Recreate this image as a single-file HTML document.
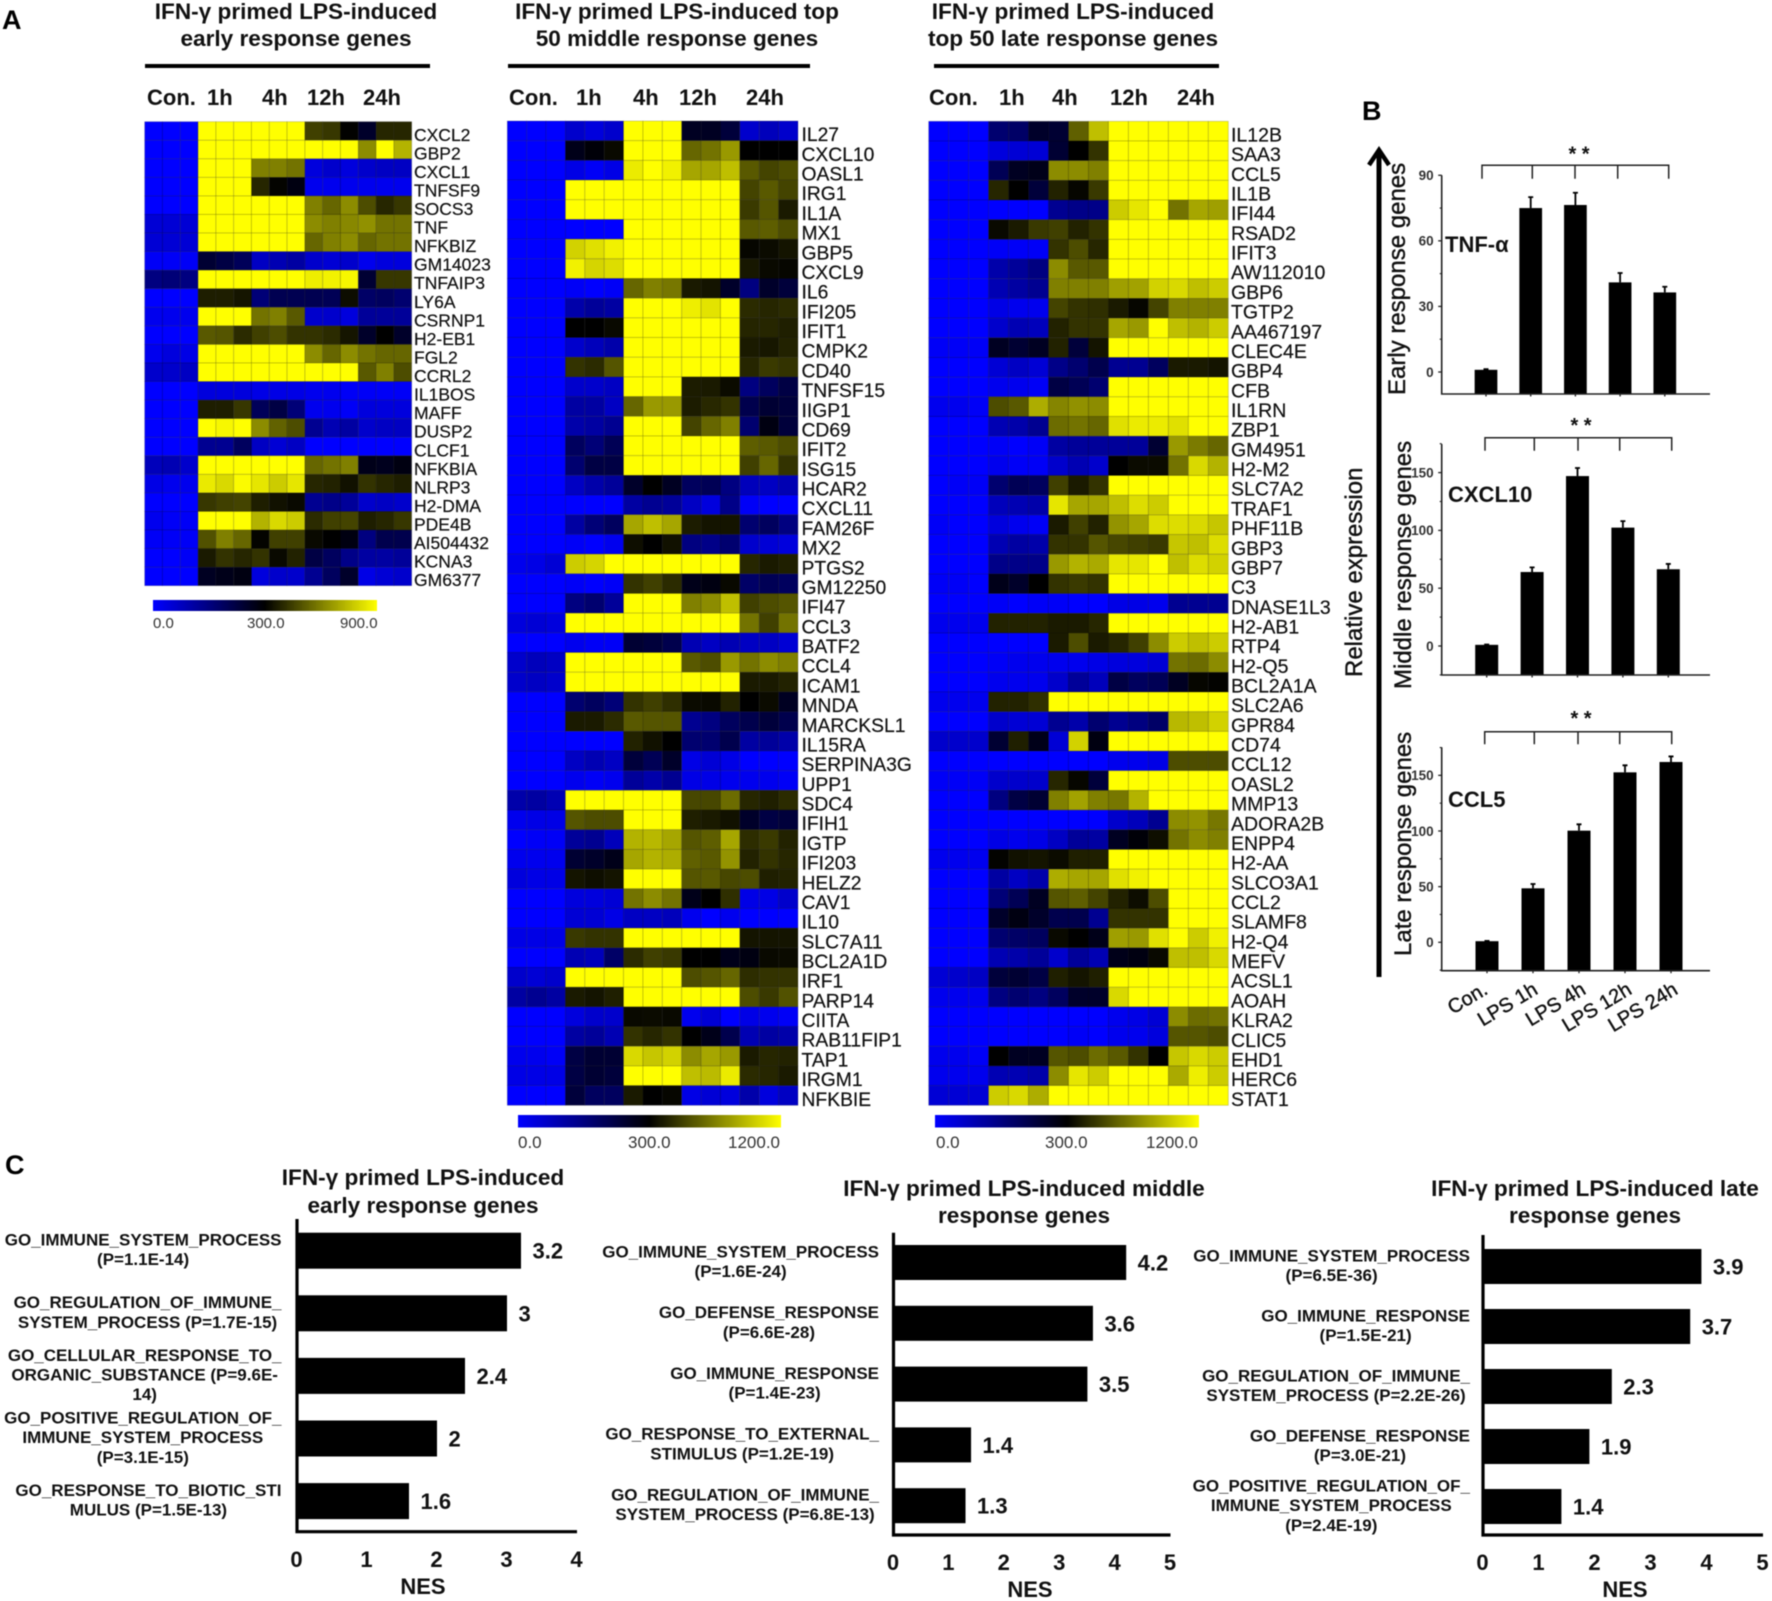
<!DOCTYPE html>
<html lang="en">
<head>
<meta charset="utf-8">
<title>IFN-γ primed LPS-induced response genes</title>
<style>
html,body{margin:0;padding:0;background:#fff;}
svg{display:block;font-family:"Liberation Sans",sans-serif;filter:blur(0.4px);}
text{fill:#111;}
.t{font-weight:bold;font-size:22.6px;text-anchor:middle;}
.h{font-weight:bold;font-size:22px;}
.letter{font-weight:bold;font-size:27px;fill:#000;}
.cb{font-size:15px;fill:#333;}
.cb2{font-size:17px;fill:#333;}
.yt{font-size:24px;stroke:#111;stroke-width:0.4px;}
.gn{font-weight:bold;font-size:22px;}
</style>
</head>
<body>
<svg id="fig" xmlns="http://www.w3.org/2000/svg" width="1772" height="1601" viewBox="0 0 1772 1601">
<defs>
<linearGradient id="cbar" x1="0" x2="1" y1="0" y2="0">
<stop offset="0" stop-color="#0000ff"/><stop offset="0.5" stop-color="#000"/><stop offset="1" stop-color="#ffff00"/>
</linearGradient>
</defs>
<rect x="0" y="0" width="1772" height="1601" fill="#fff"/>

<text class="letter" x="2" y="29">A</text>
<text class="letter" x="1362" y="120">B</text>
<text class="letter" x="5" y="1174">C</text>

<g>
<text class="t" x="296" y="19">IFN-γ primed LPS-induced</text>
<text class="t" x="296" y="46">early response genes</text>
<rect x="145" y="64" width="285" height="4" fill="#000"/>
<text class="h" x="147" y="105">Con.</text>
<text class="h" x="207" y="105">1h</text>
<text class="h" x="262" y="105">4h</text>
<text class="h" x="307" y="105">12h</text>
<text class="h" x="363" y="105">24h</text>
</g>
<g>
<text class="t" x="677" y="19">IFN-γ primed LPS-induced top</text>
<text class="t" x="677" y="46">50 middle response genes</text>
<rect x="508" y="64" width="302" height="4" fill="#000"/>
<text class="h" x="509" y="105">Con.</text>
<text class="h" x="576" y="105">1h</text>
<text class="h" x="633" y="105">4h</text>
<text class="h" x="679" y="105">12h</text>
<text class="h" x="746" y="105">24h</text>
</g>
<g>
<text class="t" x="1073" y="19">IFN-γ primed LPS-induced</text>
<text class="t" x="1073" y="46">top 50 late response genes</text>
<rect x="934" y="64" width="285" height="4" fill="#000"/>
<text class="h" x="929" y="105">Con.</text>
<text class="h" x="999" y="105">1h</text>
<text class="h" x="1052" y="105">4h</text>
<text class="h" x="1110" y="105">12h</text>
<text class="h" x="1177" y="105">24h</text>
</g>

<g>
<rect x="153" y="600" width="224" height="11" fill="url(#cbar)"/>
<text class="cb" x="153" y="628">0.0</text>
<text class="cb" x="247" y="628">300.0</text>
<text class="cb" x="340" y="628">900.0</text>
</g>
<g>
<rect x="518" y="1115" width="263" height="12.5" fill="url(#cbar)"/>
<text class="cb2" x="518" y="1148">0.0</text>
<text class="cb2" x="628" y="1148">300.0</text>
<text class="cb2" x="728" y="1148">1200.0</text>
</g>
<g>
<rect x="935" y="1115" width="264" height="12.5" fill="url(#cbar)"/>
<text class="cb2" x="936" y="1148">0.0</text>
<text class="cb2" x="1045" y="1148">300.0</text>
<text class="cb2" x="1146" y="1148">1200.0</text>
</g>

<g>
<line x1="1379" y1="977" x2="1379" y2="150" stroke="#000" stroke-width="5"/>
<polyline points="1369,165 1379,150 1389,165" fill="none" stroke="#000" stroke-width="4.5"/>
</g>
<text x="1362" y="677" font-size="24" stroke="#111" stroke-width="0.4" transform="rotate(-90 1362 677)">Relative expression</text>
<text class="yt" x="1405" y="395" transform="rotate(-90 1405 395)">Early response genes</text>
<text class="yt" x="1411" y="689" transform="rotate(-90 1411 689)">Middle response genes</text>
<text class="yt" x="1411" y="956" transform="rotate(-90 1411 956)">Late response genes</text>
<text class="gn" x="1445" y="252">TNF-α</text>
<text class="gn" x="1448" y="502">CXCL10</text>
<text class="gn" x="1448" y="807">CCL5</text>

<text class="t" x="423" y="1185">IFN-γ primed LPS-induced</text>
<text class="t" x="423" y="1213">early response genes</text>
<text class="t" x="1024" y="1196">IFN-γ primed LPS-induced middle</text>
<text class="t" x="1024" y="1223">response genes</text>
<text class="t" x="1595" y="1196">IFN-γ primed LPS-induced late</text>
<text class="t" x="1595" y="1223">response genes</text>
</svg>

<script>
const earlyGenes=["CXCL2","GBP2","CXCL1","TNFSF9","SOCS3","TNF","NFKBIZ","GM14023","TNFAIP3","LY6A","CSRNP1","H2-EB1","FGL2","CCRL2","IL1BOS","MAFF","DUSP2","CLCF1","NFKBIA","NLRP3","H2-DMA","PDE4B","AI504432","KCNA3","GM6377"];
const middleGenes=["IL27","CXCL10","OASL1","IRG1","IL1A","MX1","GBP5","CXCL9","IL6","IFI205","IFIT1","CMPK2","CD40","TNFSF15","IIGP1","CD69","IFIT2","ISG15","HCAR2","CXCL11","FAM26F","MX2","PTGS2","GM12250","IFI47","CCL3","BATF2","CCL4","ICAM1","MNDA","MARCKSL1","IL15RA","SERPINA3G","UPP1","SDC4","IFIH1","IGTP","IFI203","HELZ2","CAV1","IL10","SLC7A11","BCL2A1D","IRF1","PARP14","CIITA","RAB11FIP1","TAP1","IRGM1","NFKBIE"];
const lateGenes=["IL12B","SAA3","CCL5","IL1B","IFI44","RSAD2","IFIT3","AW112010","GBP6","TGTP2","AA467197","CLEC4E","GBP4","CFB","IL1RN","ZBP1","GM4951","H2-M2","SLC7A2","TRAF1","PHF11B","GBP3","GBP7","C3","DNASE1L3","H2-AB1","RTP4","H2-Q5","BCL2A1A","SLC2A6","GPR84","CD74","CCL12","OASL2","MMP13","ADORA2B","ENPP4","H2-AA","SLCO3A1","CCL2","SLAMF8","H2-Q4","MEFV","ACSL1","AOAH","KLRA2","CLIC5","EHD1","HERC6","STAT1"];

const earlyExpr=[
[0,0,0,900,900,900,900,900,900,450,430,305,250,390,390],
[0,0,0,900,900,900,900,900,900,900,900,900,630,900,720],
[0,0,0,900,900,900,600,600,570,40,60,40,60,70,70],
[0,0,0,900,900,900,390,310,280,20,20,20,20,20,20],
[0,0,0,900,900,900,900,900,900,600,540,630,480,390,430],
[50,50,50,900,900,900,900,900,900,630,600,620,640,570,570],
[50,50,50,900,900,900,900,900,900,540,600,630,540,570,570],
[10,10,10,240,220,195,70,90,110,60,50,60,20,40,40],
[150,160,150,900,900,900,900,900,900,860,870,880,240,430,430],
[0,0,0,370,370,350,160,205,205,205,200,330,180,190,170],
[20,20,20,900,900,900,570,600,510,60,60,40,120,120,120],
[0,0,0,510,500,400,450,480,420,420,400,350,250,300,250],
[20,40,30,900,900,900,900,900,900,630,540,630,570,540,540],
[60,60,70,900,900,900,900,900,900,900,900,900,510,600,480],
[0,0,0,40,40,40,30,30,30,20,20,10,10,10,10],
[0,0,0,370,370,430,195,220,160,20,20,10,40,40,40],
[0,0,0,900,880,900,630,530,480,130,90,110,60,70,70],
[0,0,0,130,130,190,70,50,70,0,0,0,0,0,0],
[80,90,60,900,900,900,900,900,900,540,570,600,270,265,280],
[30,20,20,850,810,890,840,780,840,390,380,340,420,390,370],
[0,0,0,430,450,460,370,340,320,130,140,120,60,70,60],
[20,10,10,900,900,900,720,810,780,400,450,460,370,390,430],
[10,10,10,490,600,540,310,450,450,320,300,280,150,210,210],
[0,0,10,360,420,390,420,320,380,220,190,140,110,110,120],
[0,0,0,260,270,280,40,60,60,130,190,250,30,50,60]
];

const middleExpr=[
[0,0,0,60,40,60,1200,1200,1200,260,260,230,60,80,60],
[0,0,0,270,290,330,1200,1200,1200,660,705,840,300,300,300],
[0,0,0,30,10,30,1130,1200,1150,885,885,975,615,540,570],
[0,0,0,1200,1200,1200,1200,1200,1200,1200,1200,1200,540,615,540],
[0,0,0,1200,1200,1200,1200,1200,1200,1200,1200,1200,505,600,390],
[0,0,0,0,0,0,1200,1200,1200,1200,1200,1200,615,630,570],
[0,0,0,1040,1090,1150,1200,1200,1200,1200,1200,1200,320,340,370],
[0,0,0,1150,1050,1080,1200,1200,1200,1200,1200,1200,380,330,320],
[0,0,0,10,0,10,660,750,720,390,370,250,150,250,230],
[0,0,0,100,120,110,1200,1200,1200,1140,1100,1200,450,435,450],
[0,0,0,300,300,330,1200,1200,1200,1200,1200,1200,430,435,410],
[0,0,0,60,80,100,1200,1200,1200,1200,1200,1200,390,380,420],
[0,0,0,480,450,600,1200,1200,1200,1200,1200,1200,435,505,480],
[0,0,0,60,60,70,1200,1200,1200,400,390,340,150,190,220],
[0,0,0,110,110,70,660,840,840,400,440,480,210,240,230],
[0,0,0,100,110,130,1200,1200,1200,540,660,750,170,280,230],
[0,0,0,190,160,200,1200,1200,1200,1200,1200,1200,630,615,570],
[0,0,0,170,220,220,1200,1200,1200,1200,1200,1200,525,660,480],
[0,0,0,70,100,120,250,300,260,190,200,150,80,70,90],
[0,0,0,0,0,0,110,130,120,70,40,140,10,0,0],
[0,0,0,110,160,190,885,975,885,400,370,370,170,190,150],
[0,0,0,10,0,20,350,300,360,150,140,170,60,50,40],
[20,30,50,1020,1050,1200,1200,1200,1200,1200,1200,1200,435,390,410],
[0,0,0,10,0,10,480,525,450,270,280,330,180,200,190],
[0,0,0,150,170,120,1200,1200,1200,750,795,975,525,570,600],
[40,50,40,1200,1200,1200,1200,1200,1200,1200,1200,1200,705,525,705],
[0,0,0,20,10,10,240,230,210,90,70,90,70,70,50],
[60,80,70,1200,1200,1200,1200,1200,1200,615,570,840,705,795,750],
[60,70,60,1200,1200,1200,1200,1200,1200,1200,1200,1200,390,390,420],
[0,0,0,170,190,160,480,525,465,340,330,420,300,340,260],
[0,0,0,390,390,450,615,600,600,130,150,190,210,230,210],
[0,0,0,0,0,0,420,360,300,170,170,210,110,120,100],
[0,0,0,70,90,70,230,200,250,30,50,30,0,0,0],
[0,0,0,20,10,20,120,100,130,30,30,20,20,20,10],
[100,110,90,1200,1200,1200,1200,1200,1200,550,550,680,435,410,450],
[20,30,30,600,570,570,1200,1200,1200,410,390,360,250,220,230],
[0,10,10,120,130,80,930,950,885,600,630,885,460,505,420],
[20,20,20,240,250,270,885,930,910,640,615,820,420,480,435],
[40,30,30,370,350,370,1200,1200,1200,600,615,550,570,410,420],
[0,0,0,40,40,50,705,795,705,270,300,465,30,30,60],
[0,0,0,50,50,30,70,70,80,20,0,20,0,0,0],
[30,30,30,500,480,480,1200,1200,1200,1200,1200,1200,370,370,370],
[0,0,0,90,80,180,450,525,500,300,300,270,280,330,340],
[60,50,60,1200,1200,1200,1200,1200,1200,570,600,660,460,480,480],
[110,130,110,390,370,410,1200,1200,1200,1200,1200,1200,570,500,590],
[0,0,0,40,60,60,330,340,330,20,50,0,30,20,10],
[0,0,0,110,120,90,480,435,480,300,270,210,90,110,100],
[20,20,10,220,240,240,1065,1000,1040,795,885,840,390,435,420],
[30,30,30,220,240,230,1200,1200,1200,975,960,1130,450,435,390],
[0,0,0,230,190,190,390,300,320,30,50,40,100,40,70]
];

const lateExpr=[
[0,0,0,170,180,250,240,640,975,1200,1200,1200,1200,1200,1200],
[0,0,0,40,50,50,240,300,480,1200,1200,1200,1200,1200,1200],
[0,0,0,200,260,270,795,795,750,1200,1200,1200,1200,1200,1200],
[0,0,0,435,300,230,420,320,500,1200,1200,1200,1200,1200,1200],
[0,0,0,0,0,0,130,140,140,1020,1110,1200,705,885,860],
[0,0,0,330,390,500,525,420,480,1200,1200,1200,1200,1200,1200],
[0,0,0,10,10,10,480,570,435,1200,1200,1200,1200,1200,1200],
[0,0,0,100,120,150,795,615,615,1200,1200,1200,1200,1200,1200],
[0,0,0,90,110,130,750,750,750,860,870,1040,1065,975,1020],
[0,0,0,30,20,20,540,480,465,390,320,540,750,750,750],
[0,0,0,60,90,80,420,480,480,885,840,1200,975,930,1020],
[10,10,10,260,240,260,420,230,370,1200,1200,1200,1200,1200,1200],
[0,0,0,50,70,50,140,170,210,130,130,190,390,390,370],
[0,0,0,20,20,10,220,200,170,1200,1200,1200,1200,1200,1200],
[20,20,10,570,615,910,770,810,795,1200,1200,1200,1200,1200,1200],
[0,0,0,90,100,130,680,705,660,1090,1130,1130,1090,1200,1200],
[0,0,0,10,0,10,110,120,120,120,120,240,840,735,660],
[0,0,0,20,10,10,60,90,60,300,340,340,705,1065,930],
[0,10,10,170,200,190,525,390,480,1200,1200,1200,1200,1200,1200],
[0,0,0,80,90,100,1110,885,885,975,1080,1020,1200,1200,1200],
[10,0,0,40,20,10,390,525,420,820,885,1080,1080,1065,1000],
[0,0,0,90,110,100,480,480,600,550,525,500,1000,975,1080],
[0,0,0,140,140,140,840,930,900,1110,1110,1200,975,1080,1040],
[10,10,0,270,250,300,480,505,480,1200,1200,1200,1200,1200,1200],
[0,0,0,10,0,10,10,0,0,30,30,20,130,130,130],
[20,20,20,420,420,420,390,390,435,1200,1200,1200,1200,1200,1200],
[0,0,0,0,0,0,390,570,390,435,525,795,1020,975,1020],
[0,0,0,10,20,20,20,20,30,40,40,50,705,680,795],
[0,0,0,20,20,20,60,120,80,220,190,200,260,320,310],
[20,20,20,420,420,465,1200,1200,1200,1200,1200,1200,1200,1200,1200],
[0,0,0,60,50,50,130,100,170,130,150,180,950,975,1040],
[60,60,60,240,410,270,50,1040,280,1200,1200,1200,1200,1200,1200],
[0,0,0,0,0,0,0,0,0,20,20,30,570,570,570],
[10,10,10,60,60,60,435,320,230,1200,1200,1200,1200,1200,1200],
[0,0,0,150,220,240,750,870,750,720,930,1200,1200,1200,1200],
[0,0,0,0,0,0,0,0,0,60,80,130,795,820,720],
[0,0,0,30,20,30,70,120,110,260,290,350,705,795,750],
[20,20,20,310,360,370,340,410,410,1200,1200,1200,1200,1200,1200],
[0,0,0,110,70,100,910,885,885,1090,1150,1200,1200,1200,1200],
[0,0,0,160,200,260,600,630,540,420,345,570,1200,1200,1200],
[0,0,0,250,280,250,210,210,130,480,480,480,1200,1200,1200],
[0,0,0,170,180,190,330,300,270,860,840,1090,1200,1020,1150],
[0,0,0,90,100,120,60,120,90,270,280,330,975,975,1065],
[50,60,70,230,240,220,410,370,410,1200,1200,1200,1200,1200,1200],
[20,20,20,150,170,150,190,250,250,1065,1200,1200,1200,1200,1200],
[0,0,0,0,0,0,0,0,0,20,30,50,795,680,705],
[0,0,0,0,0,0,0,10,0,20,20,40,600,600,570],
[20,20,10,300,260,260,600,570,680,615,480,300,1000,1065,1020],
[20,20,20,90,90,100,795,1110,1020,1200,1200,1200,900,1140,1020],
[50,50,50,1020,1065,910,1200,1200,1200,1200,1200,1200,1200,1200,1200]
];

const barCategories=["Con.","LPS 1h","LPS 4h","LPS 12h","LPS 24h"];
const tnfValues=[1,75,76.4,41,36.4];
const tnfErrorTops=[1.3,80,82,45.3,39];
const tnfTicks=[0,30,60,90];
const tnfMinorTicks=[15,45,75];
const cxcl10Values=[1,64,147,102.4,66.4];
const cxcl10ErrorTops=[1.3,68,154,108,71];
const cxcl10Ticks=[0,50,100,150];
const cxcl10MinorTicks=[-25,25,75,125,175];
const ccl5Values=[1,48.5,100.3,152.7,162];
const ccl5ErrorTops=[1.3,52.4,106,159,167];
const ccl5Ticks=[0,50,100,150];
const ccl5MinorTicks=[-25,25,75,125,175];

const goEarlyLabels=[["GO_IMMUNE_SYSTEM_PROCESS","(P=1.1E-14)"],["GO_REGULATION_OF_IMMUNE_","SYSTEM_PROCESS (P=1.7E-15)"],["GO_CELLULAR_RESPONSE_TO_","ORGANIC_SUBSTANCE (P=9.6E-","14)"],["GO_POSITIVE_REGULATION_OF_","IMMUNE_SYSTEM_PROCESS","(P=3.1E-15)"],["GO_RESPONSE_TO_BIOTIC_STI","MULUS (P=1.5E-13)"]];
const goEarlyNes=[3.2,3,2.4,2,1.6];
const goEarlyTicks=[0,1,2,3,4];
const goMiddleLabels=[["GO_IMMUNE_SYSTEM_PROCESS","(P=1.6E-24)"],["GO_DEFENSE_RESPONSE","(P=6.6E-28)"],["GO_IMMUNE_RESPONSE","(P=1.4E-23)"],["GO_RESPONSE_TO_EXTERNAL_","STIMULUS (P=1.2E-19)"],["GO_REGULATION_OF_IMMUNE_","SYSTEM_PROCESS (P=6.8E-13)"]];
const goMiddleNes=[4.2,3.6,3.5,1.4,1.3];
const goMiddleTicks=[0,1,2,3,4,5];
const goLateLabels=[["GO_IMMUNE_SYSTEM_PROCESS","(P=6.5E-36)"],["GO_IMMUNE_RESPONSE","(P=1.5E-21)"],["GO_REGULATION_OF_IMMUNE_","SYSTEM_PROCESS (P=2.2E-26)"],["GO_DEFENSE_RESPONSE","(P=3.0E-21)"],["GO_POSITIVE_REGULATION_OF_","IMMUNE_SYSTEM_PROCESS","(P=2.4E-19)"]];
const goLateNes=[3.9,3.7,2.3,1.9,1.4];
const goLateTicks=[0,1,2,3,4,5];

const svg=document.getElementById('fig');
const NS='http://www.w3.org/2000/svg';
function mk(tag,attrs,parent){
  const e=document.createElementNS(NS,tag);
  for(const k in attrs){e.setAttribute(k,attrs[k]);}
  (parent||svg).appendChild(e);
  return e;
}
function heatColor(v,maxV){
  if(v<=300){return 'rgb(0,0,'+Math.round(255*(1-Math.max(v,0)/300))+')';}
  const y=Math.round(255*Math.min((v-300)/(maxV-300),1));
  return 'rgb('+y+','+y+',0)';
}
function drawHeatmap(name,genes,expr,maxV,left,right,top,bottom,labelX,fontSize){
  const g=mk('g',{});
  
  
  const cw=(right-left)/expr[0].length, rh=(bottom-top)/expr.length;
  const xS=c=>left+c*cw, yS=r=>top+r*rh;
  expr.forEach((row,r)=>{
    row.forEach((v,c)=>{
      const cell=mk('rect',{x:xS(c),y:yS(r),width:cw,height:rh,fill:heatColor(v,maxV),stroke:'rgba(0,0,0,0.2)','stroke-width':0.8},g);
      
      
    });
    const t=mk('text',{x:labelX,y:yS(r+1)+0.5,'font-size':fontSize,stroke:'#111','stroke-width':0.2},g);
    t.textContent=genes[r];
    
    
  });
}
drawHeatmap('early',earlyGenes,earlyExpr,900,144.7,411.7,121.7,585.7,414,17.5);
drawHeatmap('middle',middleGenes,middleExpr,1200,507.3,798,121,1105.3,801.5,19.3);
drawHeatmap('late',lateGenes,lateExpr,1200,928.7,1228.3,121.3,1105.3,1231,19.5);

function drawBarChart(name,values,errTops,ticks,minor,axisX,axisEndX,y0,pxPerUnit,topY,bottomY,cx0,step,barW,bracket){
  const g=mk('g',{});
  
  
  const yS=v=>y0-v*pxPerUnit, xS=i=>cx0+i*step;
  values.forEach((v,i)=>{
    const b=mk('rect',{x:xS(i)-barW/2,y:yS(v),width:barW,height:bottomY-yS(v),fill:'#000'},g);
    
    
    const e=mk('path',{d:'M'+xS(i)+' '+yS(v)+'V'+yS(errTops[i])+'M'+(xS(i)-2.5)+' '+yS(errTops[i])+'H'+(xS(i)+2.5),stroke:'#000','stroke-width':1.8,fill:'none'},g);
    
    
    const tk=mk('line',{x1:xS(i),x2:xS(i),y1:bottomY,y2:bottomY+2.5,stroke:'#222','stroke-width':1.3},g);
    
    
  });
  const ax=mk('path',{d:'M'+axisX+' '+topY+'V'+bottomY+'H'+axisEndX,stroke:'#222','stroke-width':1.6,fill:'none'},g);
  
  
  ticks.forEach(v=>{
    const l=mk('line',{x1:axisX-3.5,x2:axisX,y1:yS(v),y2:yS(v),stroke:'#222','stroke-width':1.3},g);
    
    
    const t=mk('text',{x:axisX-8,y:yS(v)+4.8,'font-size':13.5,'font-weight':'bold','text-anchor':'end',style:'fill:#333'},g);
    t.textContent=String(v);
    
    
  });
  minor.forEach(v=>{
    const l=mk('line',{x1:axisX-2,x2:axisX,y1:yS(v),y2:yS(v),stroke:'#222','stroke-width':1.1},g);
    
    
  });
  const xsB=bracket.drops;
  let d='M'+xsB[0]+' '+bracket.y2+'V'+bracket.y1+'H'+xsB[xsB.length-1]+'V'+bracket.y2;
  xsB.slice(1,-1).forEach(x=>{d+='M'+x+' '+bracket.y1+'V'+bracket.y2;});
  const br=mk('path',{d:d,stroke:'#222','stroke-width':1.5,fill:'none'},g);
  
  
  const st=mk('text',{x:bracket.starX,y:bracket.starY,'font-size':20,'font-weight':'bold','text-anchor':'middle'},g);
  st.textContent='* *';
  
  
}
drawBarChart('tnf-alpha',tnfValues,tnfErrorTops,tnfTicks,tnfMinorTicks,1441.7,1710,372,2.186,175.3,394,1486,44.7,22.7,{drops:[1482,1532.3,1575,1617.7,1668.7],y1:165.3,y2:178.7,starX:1579,starY:160.5});
drawBarChart('cxcl10',cxcl10Values,cxcl10ErrorTops,cxcl10Ticks,cxcl10MinorTicks,1441.7,1710,646,1.156,444,675,1486.7,45.4,23,{drops:[1485,1534.3,1578,1619.7,1671.7],y1:437.7,y2:450.7,starX:1581,starY:432});
drawBarChart('ccl5',ccl5Values,ccl5ErrorTops,ccl5Ticks,ccl5MinorTicks,1441.7,1710,942.3,1.113,747.3,970.7,1487,46,23,{drops:[1484.7,1534.3,1578,1619.7,1671.7],y1:731.7,y2:744.3,starX:1581,starY:725});

const catEndX=[1489,1539,1587,1633,1679];
barCategories.forEach((c,i)=>{
  const ex=catEndX[i], ey=993;
  const t=mk('text',{x:ex,y:ey,'font-size':20,'text-anchor':'end',transform:'rotate(-31 '+ex+' '+ey+')',stroke:'#111','stroke-width':0.4});
  t.textContent=c;
  
  
});

function drawGoChart(name,labels,nes,ticks,axisX,unit,axisEndX,axisTop,axisY,barTop,barH,barStep,labelRight,tickBaseline,nesX,nesBaseline){
  const g=mk('g',{});
  
  
  const xS=v=>axisX+v*unit, yS=i=>barTop+i*barStep;
  nes.forEach((v,i)=>{
    const b=mk('rect',{x:axisX,y:yS(i),width:xS(v)-axisX,height:barH,fill:'#000'},g);
    
    
    const t=mk('text',{x:xS(v)+11.5,y:yS(i)+barH/2+8,'font-size':22,'font-weight':'bold'},g);
    t.textContent=String(v);
    
    
    const lines=labels[i], center=yS(i)+barH/2+4.6;
    const nodes=lines.map((s,k)=>{
      const n=mk('text',{y:center+(k-(lines.length-1)/2)*19.7,'font-size':17,'font-weight':'bold','text-anchor':'middle'},g);
      n.textContent=s;
      
      
      return n;
    });
    const w=Math.max.apply(null,nodes.map(n=>n.getComputedTextLength()));
    nodes.forEach(n=>n.setAttribute('x',labelRight-w/2));
  });
  const ax=mk('path',{d:'M'+axisX+' '+axisTop+'V'+axisY+'H'+axisEndX,stroke:'#000','stroke-width':3.2,fill:'none'},g);
  
  
  ticks.forEach(v=>{
    const t=mk('text',{x:xS(v)-0.5,y:tickBaseline,'font-size':22,'font-weight':'bold','text-anchor':'middle'},g);
    t.textContent=String(v);
    
    
  });
  const n=mk('text',{x:nesX,y:nesBaseline,'font-size':22,'font-weight':'bold','text-anchor':'middle'},g);
  n.textContent='NES';
  
  
}
drawGoChart('go-early',goEarlyLabels,goEarlyNes,goEarlyTicks,297,70,577,1219,1531.7,1232.7,36,62.6,281.5,1567,423,1594);
drawGoChart('go-middle',goMiddleLabels,goMiddleNes,goMiddleTicks,893.5,55.4,1170.5,1232.7,1535,1245,35,60.8,879,1570,1030,1597);
drawGoChart('go-late',goLateLabels,goLateNes,goLateTicks,1483,56,1763,1235,1535,1249,35,60,1470,1570,1625,1597);
</script>
</body>
</html>
